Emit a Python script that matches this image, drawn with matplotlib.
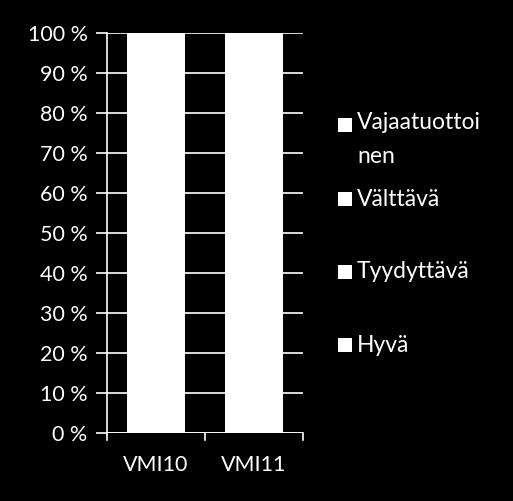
import matplotlib
matplotlib.use("Agg")
import matplotlib.pyplot as plt
from matplotlib.patches import Rectangle
import numpy as np

categories = ["VMI10", "VMI11"]
series_names = ["Hyvä", "Tyydyttävä", "Välttävä", "Vajaatuottoinen"]
legend_labels = ["Hyvä", "Tyydyttävä", "Välttävä", "Vajaatuottoi\nnen"]
# Estimated shares (all segments drawn white, so bars appear solid to 100 %)
hyva = [60, 58]
tyydyttava = [25, 27]
valttava = [10, 10]
vajaatuottoinen = [5, 5]
yticks = [0, 10, 20, 30, 40, 50, 60, 70, 80, 90, 100]
ytick_labels = [f"{v} %" for v in yticks]

plt.rcParams['font.family'] = ['Lato', 'DejaVu Sans']
W, H = 513, 501
fig = plt.figure(figsize=(W/100, H/100), dpi=100, facecolor="black")
ax = fig.add_axes([107/W, 1-433/H, (303-107)/W, (433-33)/H], facecolor="black")

data = np.array([hyva, tyydyttava, valttava, vajaatuottoinen], dtype=float)
data = data / data.sum(axis=0) * 100
x = np.arange(len(categories))
bottom = np.zeros(len(categories))
for row, name in zip(data, series_names):
    ax.bar(x, row, bottom=bottom, width=0.59, color="white", label=name, zorder=3, linewidth=0)
    bottom += row

ax.set_xlim(-0.5, 1.5)
ax.set_ylim(0, 100)
ax.set_yticks(yticks)
ax.set_yticklabels(ytick_labels)
ax.set_xticks(x)
ax.set_xticklabels(categories)
ax.yaxis.grid(True, color="white", linewidth=1.2, zorder=1)
for s in ["top", "right", "bottom"]:
    ax.spines[s].set_visible(False)
ax.spines["left"].set_color("white")
ax.spines["left"].set_linewidth(1.2)
ax.tick_params(axis="y", colors="white", length=8, width=1.2, labelsize=15.5, pad=6)
ax.tick_params(axis="x", colors="white", length=0, labelsize=15.5, pad=16)
# category boundary ticks on x axis
for xb in [-0.5, 0.5, 1.5]:
    ax.plot([xb, xb], [0, -1.8], color="white", lw=1.2, clip_on=False, zorder=4)
ax.axhline(0, color="white", lw=1.2, zorder=4)

# Legend (manual, top entry = last series)
ypos = [345, 272, 199, 125]
for lab, yp in zip(legend_labels, ypos):
    fig.patches.append(Rectangle((338/W, 1-(yp+7)/H), 14/W, 14/H, transform=fig.transFigure,
                                 facecolor="white", edgecolor="none"))
    if "\n" in lab:
        fig.text(357/W, 1-(yp-13)/H, lab, color="white", fontsize=16.5, va="top",
                 ha="left", linespacing=1.75)
    else:
        fig.text(357/W, 1-yp/H, lab, color="white", fontsize=16.5, va="center", ha="left")

fig.savefig("out.png", dpi=100, facecolor="black")
